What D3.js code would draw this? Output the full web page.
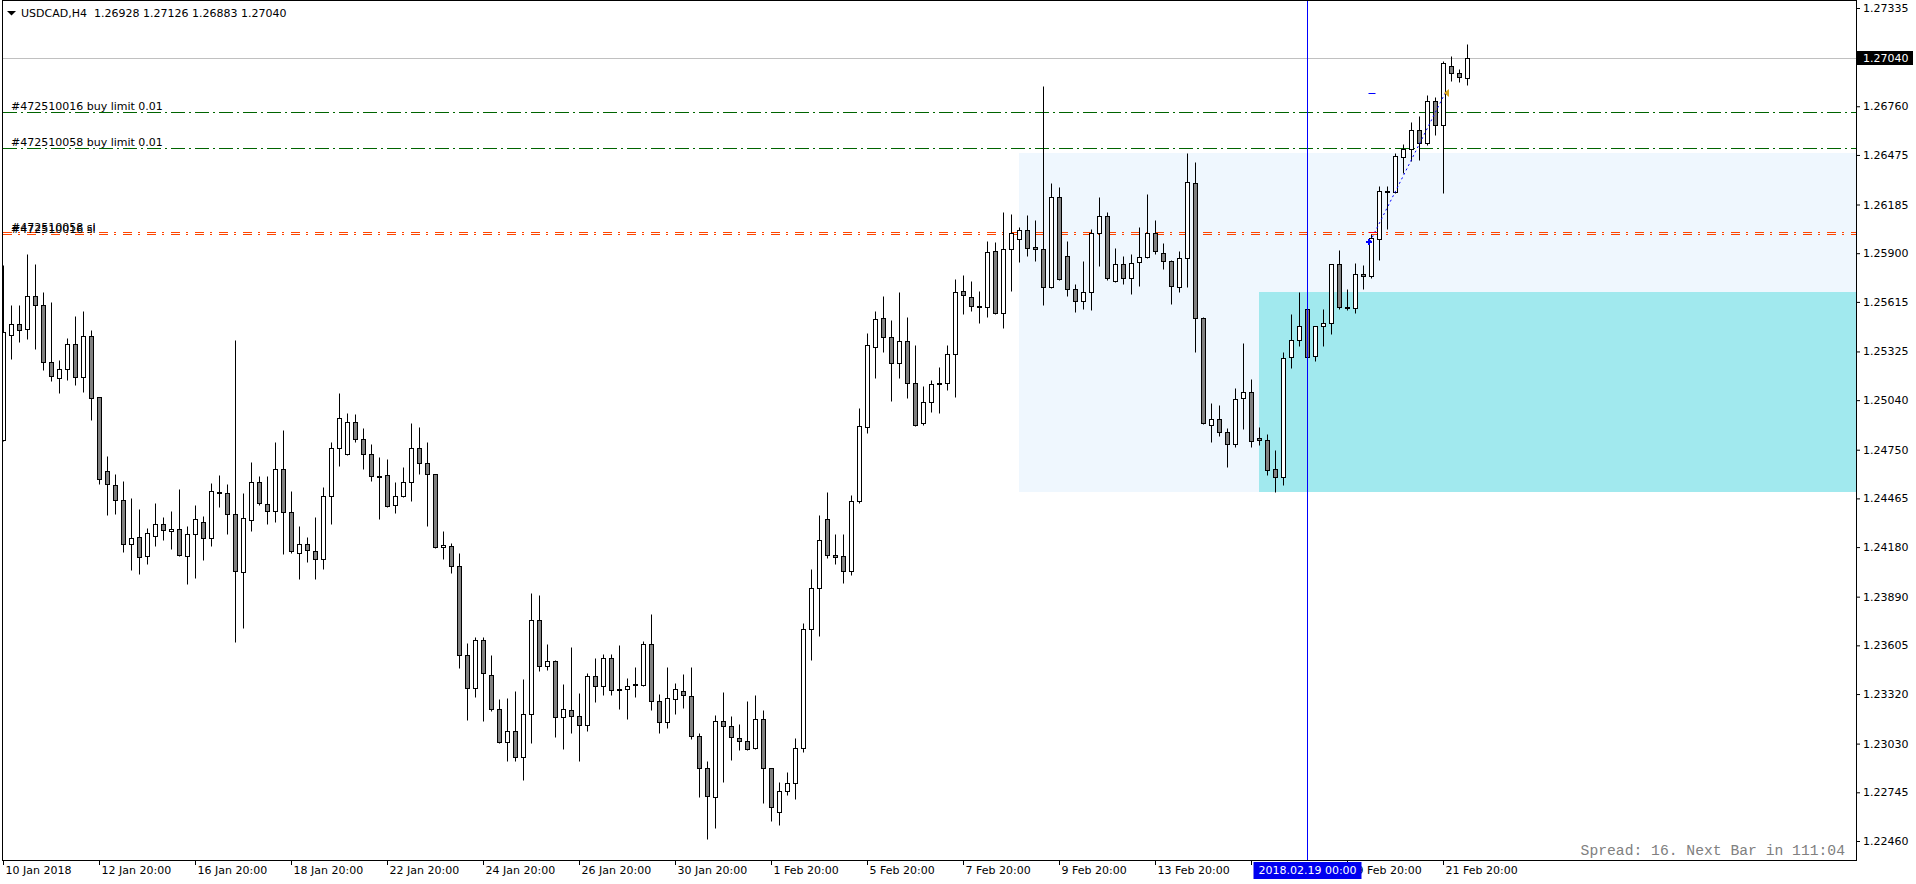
<!DOCTYPE html>
<html>
<head>
<meta charset="utf-8">
<title>USDCAD,H4</title>
<script src="https://cdn.jsdelivr.net/npm/d3@7"></script>
<style>
  html, body { margin: 0; padding: 0; background: #fff; overflow: hidden; }
  text { font-family: "DejaVu Sans", sans-serif; font-size: 11px; }
</style>
</head>
<body>
<script>
// H4 bars, 10 Jan 2018 20:00 .. 22 Feb 2018 08:00
const openV = [
  1.24807,1.25420,1.25484,1.25455,1.25648,1.25595,1.25262,1.25168,1.25221,1.25367,
  1.25174,1.25414,1.25057,1.24624,1.24542,1.24454,1.24197,1.24238,1.24127,1.24244,
  1.24314,1.24273,1.24285,1.24127,1.24256,1.24326,1.24232,1.24501,1.24495,1.24373,
  1.24033,1.24338,1.24560,1.24431,1.24390,1.24636,1.24384,1.24144,1.24197,1.24156,
  1.24109,1.24478,1.24759,1.24724,1.24911,1.24811,1.24724,1.24599,1.24601,1.24425,
  1.24478,1.24560,1.24759,1.24671,1.24607,1.24180,1.24185,1.24068,1.23548,1.23355,
  1.23636,1.23431,1.23232,1.23039,1.23103,1.22951,1.23203,1.23753,1.23483,1.23513,
  1.23185,1.23226,1.23191,1.23138,1.23425,1.23366,1.23530,1.23349,1.23349,1.23380,
  1.23372,1.23612,1.23279,1.23156,1.23290,1.23337,1.23308,1.23074,1.22887,1.22717,
  1.23162,1.23133,1.23062,1.23045,1.23004,1.23173,1.22887,1.22629,1.22752,1.22799,
  1.23004,1.23700,1.23940,1.24343,1.24133,1.24127,1.24039,1.24449,1.24882,1.25350,
  1.25519,1.25408,1.25256,1.25385,1.25139,1.24905,1.25028,1.25141,1.25139,1.25309,
  1.25677,1.25642,1.25591,1.25584,1.25911,1.25548,1.25923,1.25981,1.26034,1.25935,
  1.25923,1.25701,1.26227,1.25882,1.25689,1.25619,1.25671,1.26016,1.26116,1.25736,
  1.25835,1.25753,1.25847,1.25876,1.26016,1.25899,1.25853,1.25701,1.25870,1.26309,
  1.25519,1.24893,1.24928,1.24852,1.24782,1.25051,1.25086,1.24817,1.24806,1.24636,
  1.24589,1.25291,1.25391,1.25572,1.25297,1.25472,1.25490,1.25835,1.25586,1.25578,
  1.25777,1.25765,1.25981,1.26264,1.26256,1.26461,1.26508,1.26619,1.26543,1.26789,
  1.26648,1.26993,1.26952,1.26928
];
const highV = [
  1.25831,1.25597,1.25597,1.25896,1.25837,1.25671,1.25613,1.25274,1.25402,1.25533,
  1.25560,1.25449,1.25060,1.24712,1.24607,1.24566,1.24466,1.24402,1.24291,1.24437,
  1.24355,1.24390,1.24519,1.24302,1.24425,1.24361,1.24554,1.24601,1.24548,1.25391,
  1.24495,1.24677,1.24595,1.24595,1.24794,1.24864,1.24507,1.24302,1.24238,1.24355,
  1.24531,1.24794,1.25080,1.24963,1.24958,1.24876,1.24782,1.24706,1.24694,1.24560,
  1.24648,1.24905,1.24882,1.24794,1.24610,1.24273,1.24203,1.24144,1.23618,1.23653,
  1.23653,1.23548,1.23290,1.23296,1.23337,1.23407,1.23910,1.23899,1.23612,1.23519,
  1.23378,1.23595,1.23325,1.23442,1.23530,1.23554,1.23554,1.23606,1.23413,1.23478,
  1.23630,1.23788,1.23320,1.23478,1.23384,1.23437,1.23478,1.23091,1.22928,1.23197,
  1.23331,1.23191,1.23144,1.23279,1.23314,1.23226,1.22890,1.22805,1.22863,1.23062,
  1.23735,1.24051,1.24367,1.24501,1.24256,1.24256,1.24484,1.24993,1.25431,1.25560,
  1.25648,1.25507,1.25671,1.25525,1.25361,1.25121,1.25157,1.25233,1.25361,1.25747,
  1.25771,1.25736,1.25677,1.25970,1.25964,1.26139,1.26128,1.26052,1.26122,1.26093,
  1.26876,1.26309,1.26286,1.25970,1.25718,1.25853,1.26040,1.26227,1.26139,1.25929,
  1.25882,1.25894,1.26052,1.26245,1.26093,1.25958,1.25859,1.25911,1.26484,1.26432,
  1.25525,1.25022,1.25010,1.24876,1.25110,1.25373,1.25162,1.24882,1.24841,1.24747,
  1.25320,1.25543,1.25671,1.25575,1.25475,1.25572,1.25838,1.25917,1.25689,1.25841,
  1.25829,1.26011,1.26291,1.26291,1.26485,1.26537,1.26666,1.26701,1.26824,1.26812,
  1.27023,1.27052,1.26976,1.27126
];
const lowV = [
  1.24800,1.25279,1.25383,1.25400,1.25342,1.25215,1.25151,1.25080,1.25157,1.25127,
  1.25086,1.24923,1.24548,1.24365,1.24373,1.24154,1.24045,1.24022,1.24080,1.24185,
  1.24221,1.24168,1.24127,1.23963,1.23998,1.24104,1.24185,1.24414,1.24256,1.23626,
  1.23708,1.24273,1.24425,1.24314,1.24326,1.24139,1.24144,1.23992,1.24092,1.23992,
  1.24051,1.24314,1.24653,1.24720,1.24794,1.24636,1.24566,1.24343,1.24415,1.24378,
  1.24472,1.24449,1.24607,1.24302,1.24172,1.24113,1.24026,1.23470,1.23168,1.23302,
  1.23162,1.23220,1.23036,1.22928,1.22928,1.22817,1.23033,1.23454,1.23460,1.23068,
  1.22998,1.23091,1.22928,1.23103,1.23273,1.23314,1.23314,1.23232,1.23173,1.23302,
  1.23366,1.23226,1.23091,1.23121,1.23203,1.23238,1.23056,1.22717,1.22471,1.22536,
  1.22805,1.22934,1.22992,1.22992,1.23000,1.22682,1.22577,1.22553,1.22729,1.22705,
  1.22980,1.23519,1.23659,1.24115,1.24080,1.23969,1.24016,1.24437,1.24846,1.25168,
  1.25320,1.25034,1.25168,1.25051,1.24890,1.24893,1.24969,1.24964,1.25098,1.25057,
  1.25543,1.25560,1.25490,1.25525,1.25543,1.25461,1.25677,1.25847,1.25882,1.25853,
  1.25595,1.25698,1.25745,1.25648,1.25554,1.25572,1.25566,1.25823,1.25741,1.25733,
  1.25718,1.25660,1.25706,1.25870,1.25894,1.25806,1.25601,1.25671,1.25701,1.25320,
  1.24903,1.24794,1.24829,1.24648,1.24765,1.24870,1.24765,1.24776,1.24601,1.24501,
  1.24542,1.25227,1.25355,1.25288,1.25268,1.25355,1.25426,1.25572,1.25566,1.25549,
  1.25689,1.25753,1.25859,1.26044,1.26250,1.26367,1.26438,1.26443,1.26531,1.26590,
  1.26250,1.26906,1.26900,1.26883
];
const closeV = [
  1.25441,1.25484,1.25449,1.25648,1.25595,1.25262,1.25180,1.25221,1.25367,1.25174,
  1.25414,1.25051,1.24577,1.24548,1.24456,1.24197,1.24232,1.24121,1.24261,1.24314,
  1.24279,1.24285,1.24133,1.24256,1.24343,1.24232,1.24507,1.24495,1.24373,1.24039,
  1.24349,1.24560,1.24437,1.24390,1.24636,1.24384,1.24156,1.24197,1.24162,1.24109,
  1.24478,1.24759,1.24934,1.24911,1.24811,1.24724,1.24595,1.24595,1.24419,1.24478,
  1.24560,1.24759,1.24671,1.24607,1.24178,1.24191,1.24068,1.23548,1.23355,1.23636,
  1.23442,1.23232,1.23039,1.23103,1.22951,1.23203,1.23753,1.23483,1.23513,1.23185,
  1.23232,1.23191,1.23138,1.23425,1.23366,1.23530,1.23343,1.23345,1.23366,1.23376,
  1.23612,1.23279,1.23156,1.23296,1.23349,1.23314,1.23074,1.22887,1.22723,1.23162,
  1.23133,1.23068,1.23045,1.22998,1.23173,1.22887,1.22659,1.22752,1.22799,1.23004,
  1.23700,1.23940,1.24221,1.24133,1.24121,1.24039,1.24449,1.24887,1.25361,1.25513,
  1.25408,1.25256,1.25385,1.25139,1.24893,1.25028,1.25133,1.25137,1.25309,1.25671,
  1.25654,1.25589,1.25587,1.25905,1.25548,1.25923,1.26016,1.26034,1.25929,1.25923,
  1.25701,1.26227,1.25747,1.25689,1.25619,1.25671,1.26016,1.26116,1.25753,1.25835,
  1.25753,1.25841,1.25876,1.26016,1.25911,1.25853,1.25706,1.25870,1.26315,1.25519,
  1.24905,1.24928,1.24852,1.24782,1.25045,1.25086,1.24800,1.24806,1.24630,1.24589,
  1.25285,1.25391,1.25472,1.25291,1.25472,1.25490,1.25835,1.25584,1.25582,1.25777,
  1.25765,1.25987,1.26262,1.26260,1.26467,1.26508,1.26619,1.26543,1.26789,1.26648,
  1.27011,1.26952,1.26929,1.27040
];

const timeTicks = [0, 12, 24, 36, 48, 60, 72, 84, 96, 108, 120, 132, 144, 156, 168, 180];
const timeLabels = ['10 Jan 2018', '12 Jan 20:00', '16 Jan 20:00', '18 Jan 20:00', '22 Jan 20:00',
  '24 Jan 20:00', '26 Jan 20:00', '30 Jan 20:00', '1 Feb 20:00', '5 Feb 20:00', '7 Feb 20:00',
  '9 Feb 20:00', '13 Feb 20:00', '15 Feb 20:00', '19 Feb 20:00', '21 Feb 20:00'];
const priceTicks = [1.27335, 1.26760, 1.26475, 1.26185, 1.25900, 1.25615, 1.25325, 1.25040,
  1.24750, 1.24465, 1.24180, 1.23890, 1.23605, 1.23320, 1.23030, 1.22745, 1.22460];

const symbolTitle = 'USDCAD,H4  1.26928 1.27126 1.26883 1.27040';
const bidPrice = 1.27040;

const limitPrices = [1.26725, 1.26514];
const limitLabels = ['#472510016 buy limit 0.01', '#472510058 buy limit 0.01'];
const slPrices = [1.26026, 1.26012];
const slLabels = ['#472510058 sl', '#472510016 sl'];

const zoneStart = [127, 157];
const zoneTop = [1.26488, 1.25673];
const zoneBottom = [1.24502, 1.24502];
const zoneColors = ['#eff7fe', '#a1e9ee'];

const cursorBar = 163;
const cursorLabel = '2018.02.19 00:00';

const tradeBars = [171, 180];
const tradePrices = [1.25967, 1.26836];
const tradeSL = 1.26022;
const tradeTP = 1.26836;

const spreadText = 'Spread: 16. Next Bar in 111:04';

// ---- layout
const W = 1916, H = 884;
const plot = {left: 2, right: 1856, top: 0, bottom: 860};

const svg = d3.select('body').append('svg')
  .attr('width', W)
  .attr('height', H)
  .style('display', 'block');

const x = d3.scaleLinear()
  .domain([0, openV.length - 1])
  .range([3, 3 + 8 * (openV.length - 1)]);

const y = d3.scaleLinear()
  .domain([1.22460, 1.27335])
  .range([841, 8]);

const px = i => Math.round(x(i)) + 0.5;
const py = p => Math.round(y(p)) + 0.5;

svg.append('defs').append('clipPath').attr('id', 'plotClip')
  .append('rect')
  .attr('x', plot.left + 1).attr('y', plot.top + 1)
  .attr('width', plot.right - plot.left - 1)
  .attr('height', plot.bottom - plot.top - 1);

const chart = svg.append('g').attr('clip-path', 'url(#plotClip)');

// rectangles (background objects)
chart.append('g').selectAll('rect')
  .data(zoneStart)
  .join('rect')
  .attr('x', d => Math.round(x(d)))
  .attr('width', d => plot.right - Math.round(x(d)))
  .attr('y', (d, i) => Math.round(y(zoneTop[i])))
  .attr('height', (d, i) => Math.round(y(zoneBottom[i])) - Math.round(y(zoneTop[i])))
  .attr('fill', (d, i) => zoneColors[i]);

// bid line
chart.append('line')
  .attr('x1', plot.left).attr('x2', plot.right)
  .attr('y1', py(bidPrice)).attr('y2', py(bidPrice))
  .attr('stroke', '#c0c0c0');

// pending orders
chart.append('g').selectAll('line')
  .data(limitPrices)
  .join('line')
  .attr('x1', plot.left + 1).attr('x2', plot.right)
  .attr('y1', d => py(d)).attr('y2', d => py(d))
  .attr('stroke', '#006400')
  .attr('stroke-dasharray', '14,4,2,4');

chart.append('g').selectAll('line')
  .data(slPrices)
  .join('line')
  .attr('x1', plot.left + 1).attr('x2', plot.right)
  .attr('y1', d => py(d)).attr('y2', d => py(d))
  .attr('stroke', '#ff4500')
  .attr('stroke-dasharray', '9,6,2,7');

// candles
const bars = d3.range(openV.length).map(i => ({
  i: i, o: openV[i], h: highV[i], l: lowV[i], c: closeV[i]
}));

const candles = chart.append('g').classed('candles', true);

candles.selectAll('line')
  .data(bars)
  .join('line')
  .attr('x1', d => px(d.i)).attr('x2', d => px(d.i))
  .attr('y1', d => py(d.h)).attr('y2', d => py(d.l))
  .attr('stroke', '#000');

candles.selectAll('rect')
  .data(bars)
  .join('rect')
  .attr('x', d => px(d.i) - 2)
  .attr('width', 4)
  .attr('y', d => py(Math.max(d.o, d.c)))
  .attr('height', d => Math.max(py(Math.min(d.o, d.c)) - py(Math.max(d.o, d.c)), 1))
  .attr('fill', d => d.c < d.o ? '#808080' : '#ffffff')
  .attr('stroke', '#000');

// closed trade
chart.append('line')
  .attr('x1', x(tradeBars[0]) - 1).attr('y1', y(tradePrices[0]))
  .attr('x2', x(tradeBars[1]) + 2).attr('y2', y(tradePrices[1]))
  .attr('stroke', '#0000ff')
  .attr('stroke-dasharray', '2,3');

chart.append('line')
  .attr('x1', px(tradeBars[0]) - 3).attr('x2', px(tradeBars[0]) + 6)
  .attr('y1', py(tradeSL)).attr('y2', py(tradeSL))
  .attr('stroke', '#ff0000');

chart.append('line')
  .attr('x1', px(tradeBars[0]) - 3).attr('x2', px(tradeBars[0]) + 4)
  .attr('y1', py(tradeTP)).attr('y2', py(tradeTP))
  .attr('stroke', '#0000ff');

chart.append('path')
  .attr('d', () => {
    const cx = Math.round(x(tradeBars[0])) - 2, cy = Math.round(y(tradePrices[0]));
    return 'M' + (cx - 3) + ',' + cy + 'H' + (cx + 3) + 'M' + cx + ',' + (cy - 3) + 'V' + (cy + 3);
  })
  .attr('stroke', '#0000ff')
  .attr('stroke-width', 2);

chart.append('path')
  .attr('d', () => {
    const tx = Math.round(x(tradeBars[1])) + 1, ty = Math.round(y(tradePrices[1]));
    return 'M' + tx + ',' + ty + 'L' + (tx + 5) + ',' + (ty - 4) + 'L' + (tx + 5) + ',' + (ty + 4) + 'Z';
  })
  .attr('fill', '#daa520');

// cursor line
chart.append('line')
  .attr('x1', px(cursorBar)).attr('x2', px(cursorBar))
  .attr('y1', plot.top).attr('y2', plot.bottom)
  .attr('stroke', '#0000ff');

// object labels
chart.append('g').selectAll('text')
  .data(limitLabels)
  .join('text')
  .attr('x', 11)
  .attr('y', (d, i) => py(limitPrices[i]) - 3)
  .attr('fill', '#000')
  .text(d => d);

chart.append('g').selectAll('text')
  .data(slLabels)
  .join('text')
  .attr('x', 11)
  .attr('y', (d, i) => py(slPrices[i]) - 2)
  .attr('fill', '#000')
  .text(d => d);

// header
svg.append('path')
  .attr('d', 'M7,11H16L11.5,15.5Z')
  .attr('fill', '#000');
svg.append('text')
  .attr('x', 21)
  .attr('y', 17)
  .attr('fill', '#000')
  .style('white-space', 'pre')
  .text(symbolTitle);

svg.append('text')
  .attr('x', 1845)
  .attr('y', 855)
  .attr('text-anchor', 'end')
  .attr('fill', '#808080')
  .style('font-family', '"Liberation Mono", monospace')
  .style('font-size', '14.7px')
  .text(spreadText);

// frame
svg.append('rect')
  .attr('x', plot.left + 0.5).attr('y', plot.top + 0.5)
  .attr('width', plot.right - plot.left)
  .attr('height', plot.bottom - plot.top)
  .attr('fill', 'none')
  .attr('stroke', '#000');

// price axis
const yAxis = svg.append('g')
  .attr('transform', 'translate(' + plot.right + ',0)')
  .call(d3.axisRight(y).tickValues(priceTicks).tickFormat(d => d.toFixed(5)).tickSize(4).tickPadding(3));
yAxis.select('.domain').remove();
yAxis.selectAll('text')
  .attr('font-family', 'DejaVu Sans')
  .style('font-size', '11px')
  .attr('fill', '#000');

svg.append('rect')
  .attr('x', plot.right + 1).attr('y', Math.round(y(bidPrice)) - 7)
  .attr('width', 56).attr('height', 14)
  .attr('fill', '#000');
svg.append('text')
  .attr('x', plot.right + 7)
  .attr('y', Math.round(y(bidPrice)) + 4)
  .attr('fill', '#fff')
  .text(bidPrice.toFixed(5));

// time axis
const xAxis = svg.append('g')
  .attr('transform', 'translate(0,' + plot.bottom + ')')
  .call(d3.axisBottom(x).tickValues(timeTicks).tickFormat((d, i) => timeLabels[i]).tickSize(5).tickPadding(1));
xAxis.select('.domain').remove();
xAxis.selectAll('text')
  .attr('text-anchor', 'start')
  .attr('x', 2)
  .attr('font-family', 'DejaVu Sans')
  .style('font-size', '11px')
  .attr('fill', '#000');

svg.append('rect')
  .attr('x', px(cursorBar) - 54).attr('y', plot.bottom + 2)
  .attr('width', 108).attr('height', 17)
  .attr('fill', '#0000f0');
svg.append('text')
  .attr('x', px(cursorBar))
  .attr('y', plot.bottom + 14)
  .attr('text-anchor', 'middle')
  .attr('fill', '#fff')
  .text(cursorLabel);
</script>
</body>
</html>
